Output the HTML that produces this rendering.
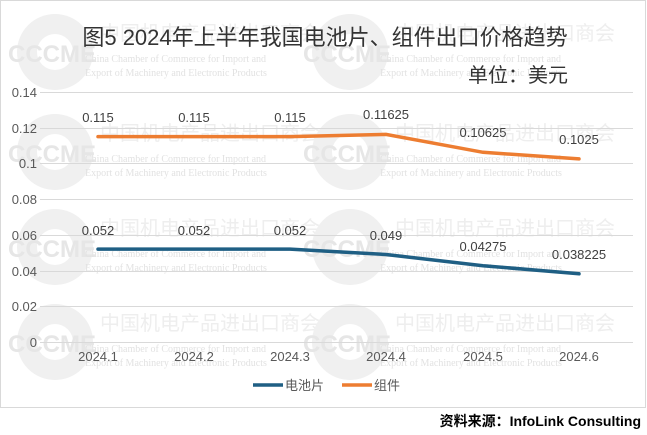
<!DOCTYPE html>
<html><head><meta charset="utf-8"><style>
body{margin:0;background:#fff;}
svg{display:block;font-family:"Liberation Sans","Noto Sans CJK SC",sans-serif;}
</style></head><body>
<svg width="647" height="435" viewBox="0 0 647 435">
<rect x="0.5" y="0.5" width="645" height="407" fill="#fff" stroke="#d9d9d9"/>
<g id="wm" fill="#ececec" opacity="1">
  <circle cx="55" cy="52" r="38" fill="#f0f0f0"/>
  <circle cx="55" cy="52" r="18" fill="#fff"/>
  <text x="8" y="62" font-size="24" font-weight="bold" fill="#e6e6e6">CCCME</text>
  <text x="100" y="40" font-size="20" fill="#eeeeee">中国机电产品进出口商会</text>
  <text x="85" y="62" font-size="10" font-family="Liberation Serif" fill="#e2e2e2">China Chamber of Commerce for Import and</text>
  <text x="85" y="76" font-size="10" font-family="Liberation Serif" fill="#e2e2e2">Export of Machinery and Electronic Products</text>
</g>
<use href="#wm" x="295" y="0"/>
<use href="#wm" x="0" y="100"/>
<use href="#wm" x="295" y="100"/>
<use href="#wm" x="0" y="195"/>
<use href="#wm" x="295" y="195"/>
<use href="#wm" x="0" y="290"/>
<use href="#wm" x="295" y="290"/>
<text x="325" y="45" font-size="22" text-anchor="middle" fill="#333">图5  2024年上半年我国电池片、组件出口价格趋势</text>
<text x="568" y="82" font-size="20" text-anchor="end" fill="#333">单位：美元</text>
<g stroke="#d9d9d9" stroke-width="1">
<line x1="40" x2="633" y1="92.5" y2="92.5"/><line x1="40" x2="633" y1="128.5" y2="128.5"/>
<line x1="40" x2="633" y1="163.5" y2="163.5"/><line x1="40" x2="633" y1="199.5" y2="199.5"/>
<line x1="40" x2="633" y1="235.5" y2="235.5"/><line x1="40" x2="633" y1="271.5" y2="271.5"/>
<line x1="40" x2="633" y1="306.5" y2="306.5"/><line x1="40" x2="633" y1="342.5" y2="342.5"/>
</g>
<g font-size="13" fill="#595959" text-anchor="end">
<text x="37" y="97">0.14</text><text x="37" y="133">0.12</text><text x="37" y="168">0.1</text>
<text x="37" y="204">0.08</text><text x="37" y="240">0.06</text><text x="37" y="276">0.04</text>
<text x="37" y="311">0.02</text><text x="37" y="347">0</text>
</g>
<g font-size="13" fill="#595959" text-anchor="middle">
<text x="98" y="361">2024.1</text><text x="194" y="361">2024.2</text><text x="290" y="361">2024.3</text>
<text x="386" y="361">2024.4</text><text x="483" y="361">2024.5</text><text x="579" y="361">2024.6</text>
</g>
<polyline fill="none" stroke="#ed7d31" stroke-width="3.5" stroke-linecap="round" points="98,136.6 194,136.6 290,136.6 386,134.4 483,152.3 579,158.9"/>
<polyline fill="none" stroke="#1f5f84" stroke-width="3.5" stroke-linecap="round" points="98,249.1 194,249.1 290,249.1 386,254.5 483,265.7 579,273.8"/>
<g font-size="13" fill="#404040" text-anchor="middle">
<text x="98" y="122">0.115</text><text x="194" y="122">0.115</text><text x="290" y="122">0.115</text>
<text x="386" y="119">0.11625</text><text x="483" y="137">0.10625</text><text x="579" y="144">0.1025</text>
<text x="98" y="235">0.052</text><text x="194" y="235">0.052</text><text x="290" y="235">0.052</text>
<text x="386" y="240">0.049</text><text x="483" y="251">0.04275</text><text x="579" y="259">0.038225</text>
</g>
<line x1="253" x2="283" y1="385" y2="385" stroke="#1f5f84" stroke-width="3.5"/>
<text x="285" y="390" font-size="13" fill="#595959">电池片</text>
<line x1="342" x2="372" y1="385" y2="385" stroke="#ed7d31" stroke-width="3.5"/>
<text x="374" y="390" font-size="13" fill="#595959">组件</text>
<text x="641" y="426" font-size="14" font-weight="bold" text-anchor="end" fill="#000">资料来源：InfoLink Consulting</text>
</svg>
</body></html>
